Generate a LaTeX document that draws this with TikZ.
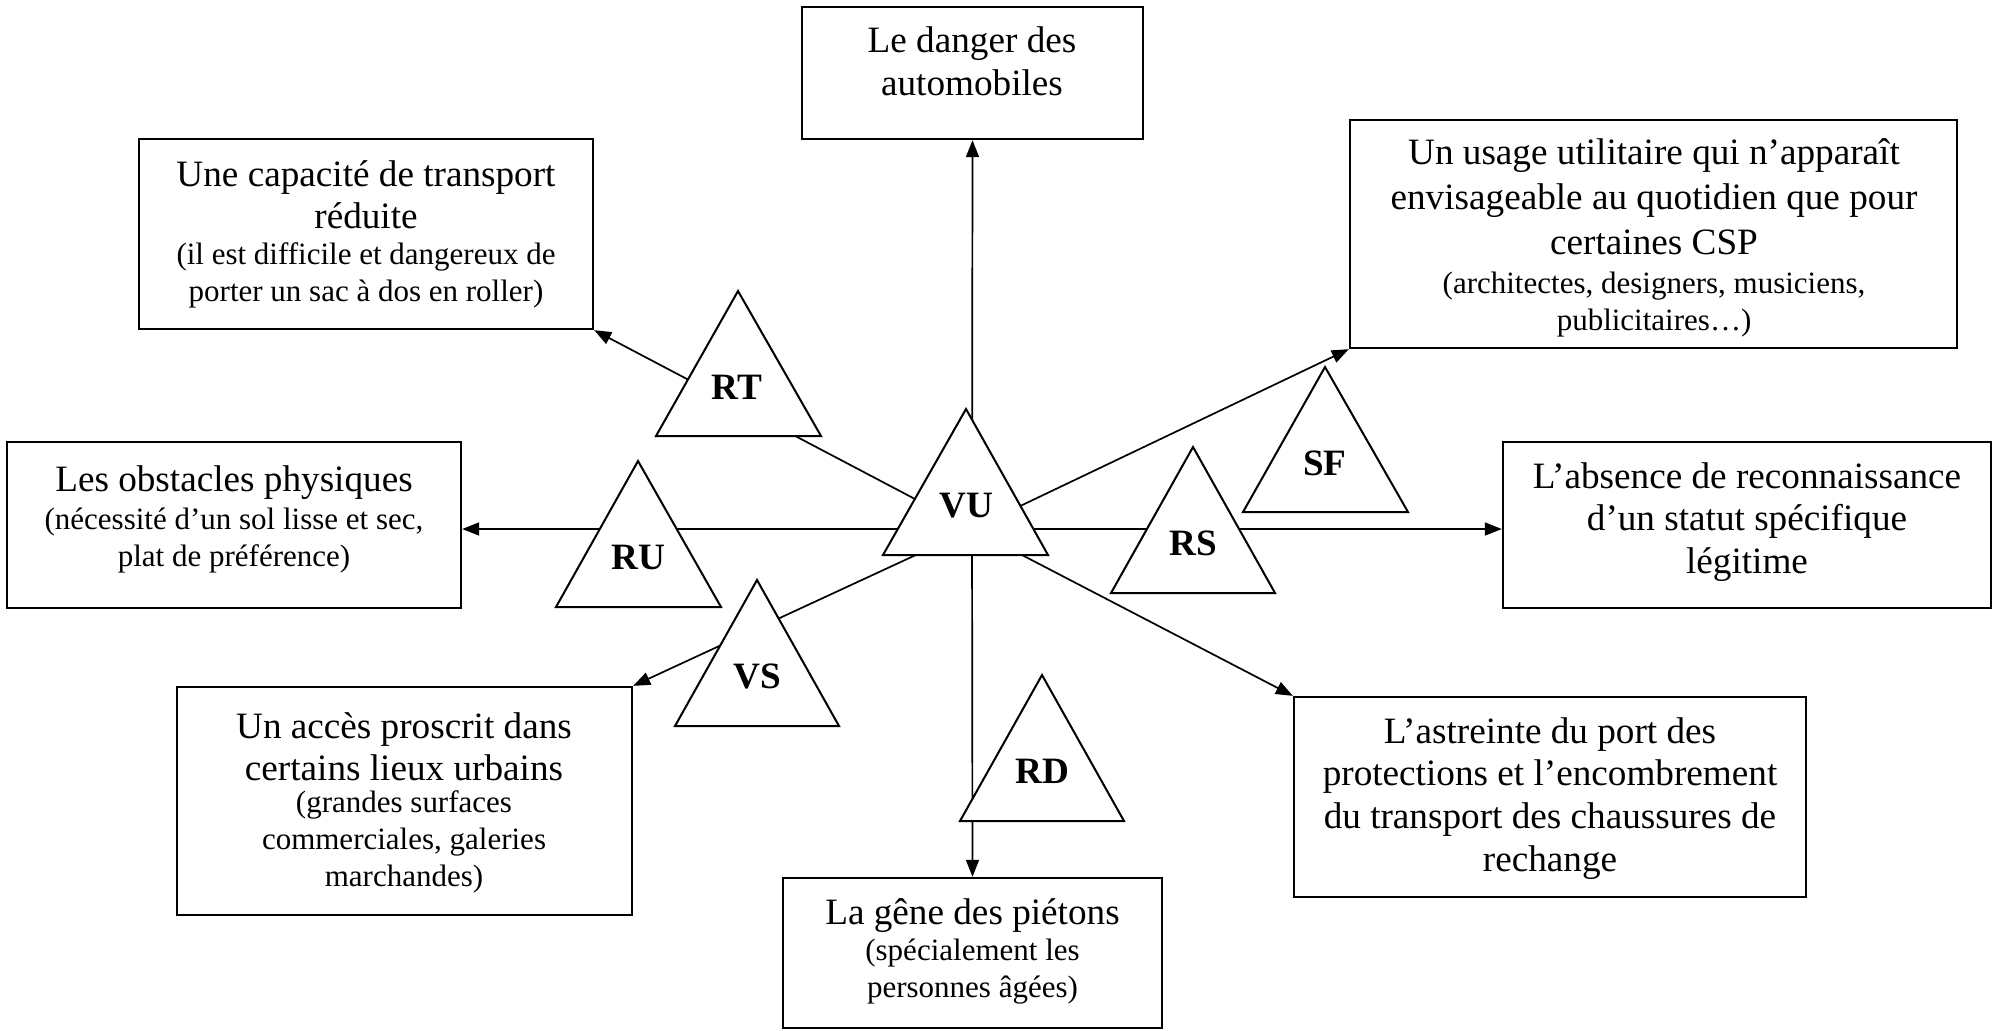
\documentclass[tikz,border=0pt]{standalone}
\usepackage{fontspec}
\setmainfont{Liberation Serif}
\usetikzlibrary{arrows.meta,fit}

\begin{document}
\begin{tikzpicture}[
  x=0.3226pt, y=-0.3226pt,
  box/.style={draw, line width=0.75pt, inner sep=0pt},
  main/.style={inner sep=0pt, align=center, font=\fontsize{12pt}{13.8pt}\selectfont},
  sub/.style={inner sep=0pt, align=center, font=\fontsize{10pt}{11.8pt}\selectfont},
  lab/.style={inner sep=0pt, font=\fontsize{12pt}{14pt}\selectfont\bfseries},
  tri/.style={draw, fill=white, line width=0.65pt, line join=miter},
  conn/.style={line width=0.55pt, -{Triangle[length=5.5pt,width=4.2pt]}}
]
\useasboundingbox (0,0) rectangle (1993,1030);

% ---- boxes ----
\node[box, fit={(802,7) (1143,139)}] (top) {};
\node[box, fit={(139,139) (593,329)}] (rt) {};
\node[box, fit={(1350,120) (1957,348)}] (sf) {};
\node[box, fit={(7,442) (461,608)}] (ru) {};
\node[box, fit={(1503,442) (1991,608)}] (rs) {};
\node[box, fit={(177,687) (632,915)}] (vs) {};
\node[box, fit={(783,878) (1162,1028)}] (gene) {};
\node[box, fit={(1294,697) (1806,897)}] (as) {};

% ---- box texts ----
\node[main, anchor=north] (tTop) at (972,26) {Le danger des\\automobiles};

\node[main, anchor=north] (tRtA) at (366,159.6) {Une capacité de transport\\réduite};
\node[sub, anchor=north] (tRtB) at (366,242.5) {(il est difficile et dangereux de\\porter un sac à dos en roller)};

\node[main, anchor=north, font=\fontsize{12pt}{14.6pt}\selectfont] (tSfA) at (1654,137.6)
  {Un usage utilitaire qui n’apparaît\\envisageable au quotidien que pour\\certaines CSP};
\node[sub, anchor=north] (tSfB) at (1654,271.5) {(architectes, designers, musiciens,\\publicitaires…)};

\node[main, anchor=north] (tRuA) at (234,464.6) {Les obstacles physiques};
\node[sub, anchor=north] (tRuB) at (234,507.5) {(nécessité d’un sol lisse et sec,\\plat de préférence)};

\node[main, anchor=north] (tRs) at (1747,461.6) {L’absence de reconnaissance\\d’un statut spécifique\\légitime};

\node[main, anchor=north] (tVsA) at (404,711.6) {Un accès proscrit dans\\certains lieux urbains};
\node[sub, anchor=north] (tVsB) at (404,790.5) {(grandes surfaces\\commerciales, galeries\\marchandes)};

\node[main, anchor=north] (tGeA) at (972.5,897.6) {La gêne des piétons};
\node[sub, anchor=north] (tGeB) at (972.5,938.5) {(spécialement les\\personnes âgées)};

\node[main, anchor=north] (tAs) at (1550,716.6) {L’astreinte du port des\\protections et l’encombrement\\du transport des chaussures de\\rechange};

% ---- connectors from the central hub ----
\coordinate (hub) at (972,529);
\draw[conn] (hub) -- (top.south);
\draw[conn] (hub) -- (gene.north);
\draw[conn] (hub) -- (hub -| ru.east);
\draw[conn] (hub) -- (hub -| rs.west);
\draw[conn] (hub) -- (rt.south east);
\draw[conn] (hub) -- (sf.south west);
\draw[conn] (hub) -- (vs.north east);
\draw[conn] (hub) -- (as.north west);

% ---- triangles ----
\draw[tri] (966,409) -- (1048,555) -- (883,555) -- cycle;
\node[lab] (lVU) at (966,506) {VU};
\draw[tri] (738,291) -- (821,436) -- (656,436) -- cycle;
\node[lab] (lRT) at (737,387) {RT};
\draw[tri] (638,461) -- (721,607) -- (556,607) -- cycle;
\node[lab] (lRU) at (638,557) {RU};
\draw[tri] (1325,367) -- (1408,512) -- (1243,512) -- cycle;
\node[lab] (lSF) at (1325,463) {SF};
\draw[tri] (1193,447) -- (1275,593) -- (1111,593) -- cycle;
\node[lab] (lRS) at (1193,543) {RS};
\draw[tri] (757,580) -- (839,726) -- (675,726) -- cycle;
\node[lab] (lVS) at (757,676) {VS};
\draw[tri] (1042,675) -- (1124,821) -- (960,821) -- cycle;
\node[lab] (lRD) at (1042,771) {RD};
\end{tikzpicture}
\end{document}
